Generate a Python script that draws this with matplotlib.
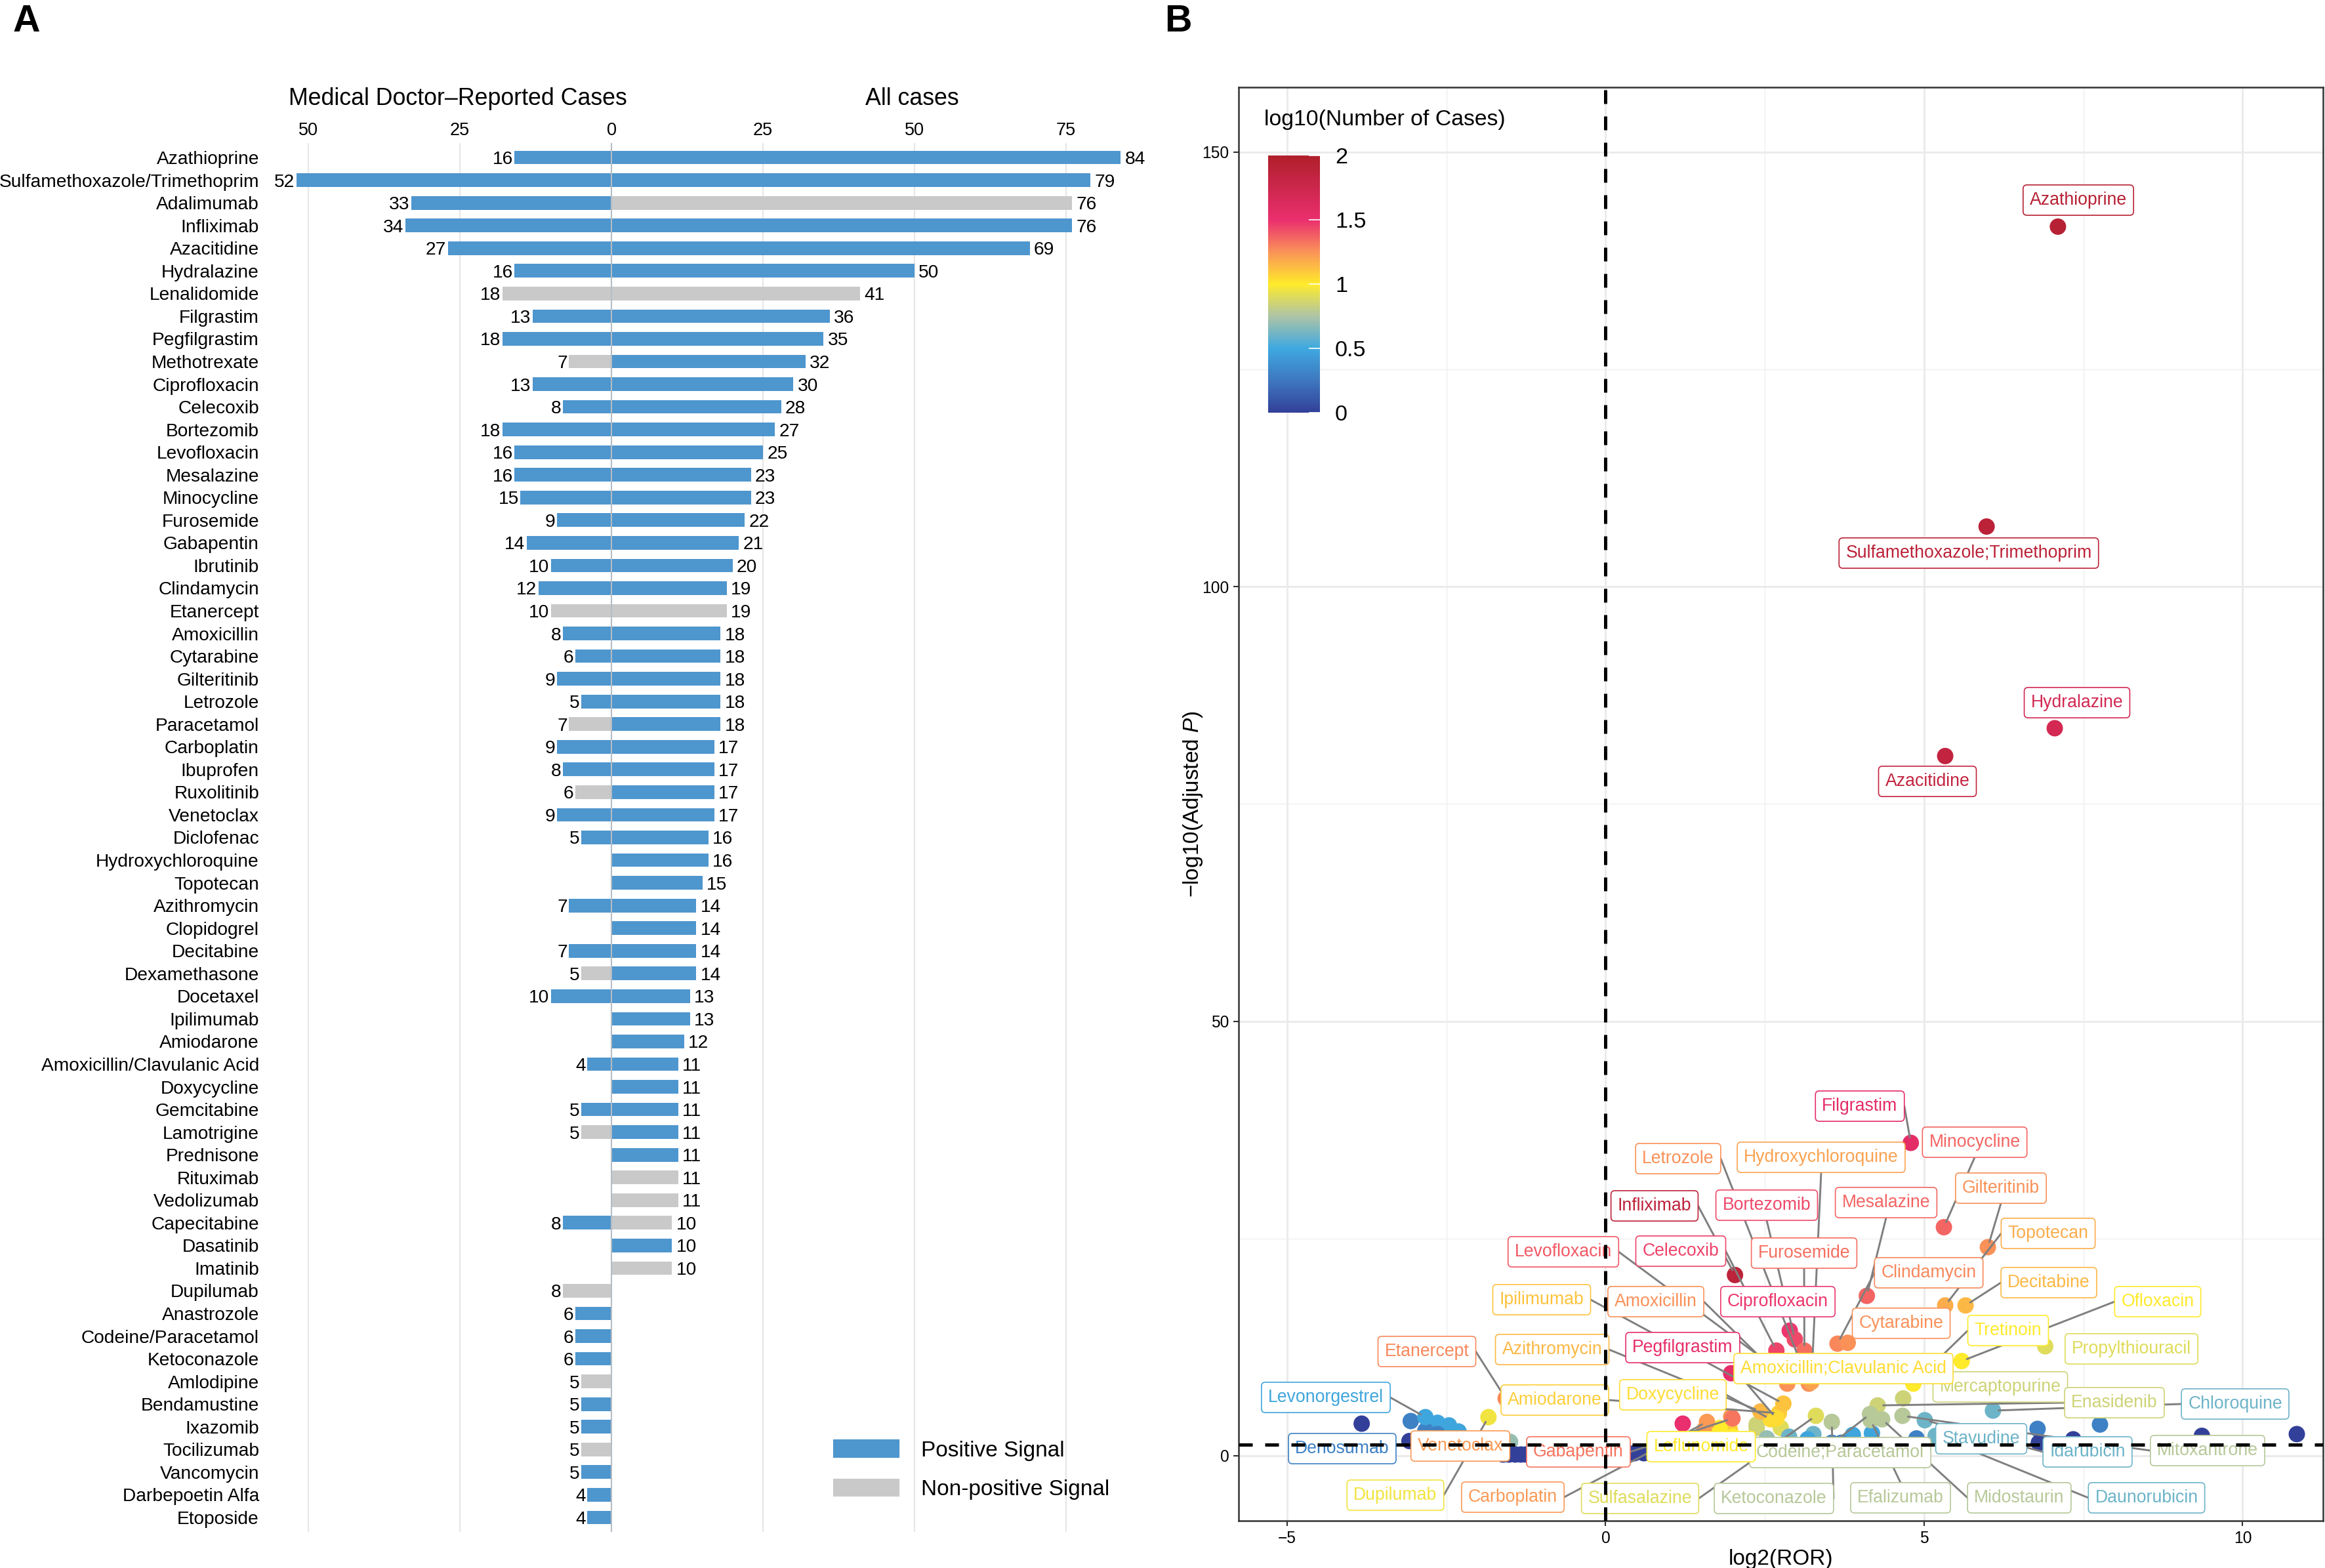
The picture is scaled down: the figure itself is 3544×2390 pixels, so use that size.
import math
import matplotlib
matplotlib.use("Agg")
import matplotlib.pyplot as plt
from matplotlib.colors import LinearSegmentedColormap, Normalize
from matplotlib.cm import ScalarMappable
from matplotlib.patches import Patch
from matplotlib.transforms import Affine2D
from matplotlib.ticker import MultipleLocator

plt.rcParams['font.family'] = ['Liberation Sans', 'DejaVu Sans']
plt.rcParams['mathtext.fontset'] = 'custom'
plt.rcParams['mathtext.rm'] = 'Liberation Sans'
plt.rcParams['mathtext.it'] = 'Liberation Sans:italic'
plt.rcParams['axes.unicode_minus'] = True

# ---------- Panel A data ----------
DRUGS = ["Azathioprine", "Sulfamethoxazole/Trimethoprim", "Adalimumab", "Infliximab", "Azacitidine",
         "Hydralazine", "Lenalidomide", "Filgrastim", "Pegfilgrastim", "Methotrexate", "Ciprofloxacin",
         "Celecoxib", "Bortezomib", "Levofloxacin", "Mesalazine", "Minocycline", "Furosemide", "Gabapentin",
         "Ibrutinib", "Clindamycin", "Etanercept", "Amoxicillin", "Cytarabine", "Gilteritinib", "Letrozole",
         "Paracetamol", "Carboplatin", "Ibuprofen", "Ruxolitinib", "Venetoclax", "Diclofenac",
         "Hydroxychloroquine", "Topotecan", "Azithromycin", "Clopidogrel", "Decitabine", "Dexamethasone",
         "Docetaxel", "Ipilimumab", "Amiodarone", "Amoxicillin/Clavulanic Acid", "Doxycycline", "Gemcitabine",
         "Lamotrigine", "Prednisone", "Rituximab", "Vedolizumab", "Capecitabine", "Dasatinib", "Imatinib",
         "Dupilumab", "Anastrozole", "Codeine/Paracetamol", "Ketoconazole", "Amlodipine", "Bendamustine",
         "Ixazomib", "Tocilizumab", "Vancomycin", "Darbepoetin Alfa", "Etoposide"]
DOCTOR_CASES = [16, 52, 33, 34, 27, 16, 18, 13, 18, 7, 13, 8, 18, 16, 16, 15, 9, 14, 10, 12, 10, 8, 6, 9, 5,
                7, 9, 8, 6, 9, 5, 0, 0, 7, 0, 7, 5, 10, 0, 0, 4, 0, 5, 5, 0, 0, 0, 8, 0, 0,
                8, 6, 6, 6, 5, 5, 5, 5, 5, 4, 4]
ALL_CASES = [84, 79, 76, 76, 69, 50, 41, 36, 35, 32, 30, 28, 27, 25, 23, 23, 22, 21, 20, 19, 19, 18, 18, 18, 18,
             18, 17, 17, 17, 17, 16, 16, 15, 14, 14, 14, 14, 13, 13, 12, 11, 11, 11, 11, 11, 11, 11, 10, 10, 10,
             0, 0, 0, 0, 0, 0, 0, 0, 0, 0, 0]
DOCTOR_NONPOSITIVE = {"Lenalidomide", "Methotrexate", "Etanercept", "Paracetamol", "Ruxolitinib", "Dexamethasone",
                      "Lamotrigine", "Dupilumab", "Amlodipine", "Tocilizumab"}
ALL_NONPOSITIVE = {"Adalimumab", "Lenalidomide", "Etanercept", "Rituximab", "Vedolizumab", "Capecitabine", "Imatinib"}
X_TICKS_A = [-50, -25, 0, 25, 50, 75]

# ---------- Panel B data ----------
POINT_NAMES = ["Azathioprine", "Sulfamethoxazole;Trimethoprim", "Hydralazine", "Azacitidine", "Filgrastim",
               "Minocycline", "Gilteritinib", "Mesalazine", "Topotecan", "Decitabine", "Infliximab", "Ciprofloxacin",
               "Bortezomib", "Celecoxib", "Furosemide", "Clindamycin", "Cytarabine", "Propylthiouracil", "Ofloxacin",
               "Pegfilgrastim", "Amoxicillin", "Levofloxacin", "Letrozole", "Hydroxychloroquine", "Tretinoin",
               "Mercaptopurine", "Enasidenib", "Chloroquine", "Stavudine", "Idarubicin", "Daunorubicin",
               "Mitoxantrone", "Midostaurin", "Efalizumab", "Codeine;Paracetamol", "Ketoconazole", "Sulfasalazine",
               "Leflunomide", "Carboplatin", "Gabapentin", "Venetoclax", "Dupilumab", "Etanercept", "Denosumab",
               "Levonorgestrel", "Amiodarone", "Doxycycline", "Azithromycin", "Ipilimumab",
               "Amoxicillin;Clavulanic Acid"]
POINT_LOG2ROR = [7.10, 5.98, 7.05, 5.33, 4.79, 5.31, 6.00, 4.10, 5.33, 5.65, 2.03, 2.89, 2.97, 2.68, 3.12, 3.64, 3.80,
                 6.90, 5.59, 1.97, 2.85, 2.74, 3.19, 3.23, 4.83, 4.67, 4.27, 6.08, 5.79, 5.01, 5.18, 4.66, 4.34, 4.16,
                 4.15, 3.55, 3.30, 1.79, 1.59, 1.99, -2.20, -1.84, -1.57, -3.06, -2.83, 2.72, 2.59, 2.43, 2.79, 2.68]
POINT_NEGLOGP = [141.4, 106.9, 83.7, 80.5, 36.0, 26.3, 24.0, 18.4, 17.3, 17.3, 20.8, 14.4, 13.4, 12.1, 12.1, 12.9, 13.0,
                 12.6, 10.9, 9.5, 8.3, 9.7, 8.3, 8.5, 8.3, 6.6, 5.8, 5.2, 1.43, 4.1, 2.3, 4.6, 4.2, 4.1,
                 4.8, 3.9, 4.6, 3.2, 3.9, 4.3, 1.0, 4.45, 6.6, 4.0, 4.45, 4.9, 4.2, 5.1, 6.0, 4.3]
POINT_CASES = [84, 79, 50, 69, 36, 23, 18, 23, 15, 14, 76, 30, 27, 28, 22, 19, 18, 8, 10, 35, 18, 25, 18, 16, 10,
               7, 7, 4, 4, 4, 4, 6, 6, 6, 6, 6, 8, 10, 17, 21, 17, 9, 19, 2, 3, 12, 11, 14, 13, 11]

OTHER_LOG2ROR = [1.21, 1.79, 1.95, 1.66, 1.55, 2.0, 2.75, 2.37, 2.53, 2.88, 3.26, 3.17, 3.88, 4.18, 3.55, 3.7, 4.88,
                 6.78, 7.76, 6.80, 7.34, 9.36, 10.85, -3.83, -2.64, -2.46, -2.31, -2.83, -2.64, -3.08, -1.50,
                 -1.61, -1.52, -1.42, -1.33, -1.25, -1.0, -0.6, -0.2, 0.2, 0.45, 0.6, 0.8, 1.0, 1.97, 2.37]
OTHER_NEGLOGP = [3.7, 3.0, 3.0, 2.4, 3.0, 2.2, 3.2, 3.2, 2.0, 2.2, 2.5, 1.9, 2.4, 2.6, 1.5, 1.5, 2.0,
                 3.1, 3.6, 1.5, 1.9, 2.3, 2.5, 3.7, 3.8, 3.5, 2.8, 2.9, 2.5, 1.7, 1.6,
                 0.15, 0.15, 0.15, 0.15, 0.15, 0.15, 0.15, 0.2, 0.2, 0.3, 0.3, 0.3, 0.3, 4.5, 3.6]
OTHER_CASES = [32, 14, 12, 11, 18, 10, 8, 7, 5, 4, 4, 3, 3, 3, 2, 2, 2,
               2, 2, 1, 1, 1, 1, 1, 3, 3, 3, 2, 2, 1, 5,
               1, 1, 1, 1, 1, 1, 1, 1, 1, 1, 1, 1, 1, 17, 7]

SIGNIFICANCE = 1.3
COLORBAR_TICKS = [0, 0.5, 1, 1.5, 2]
COLORBAR_LABELS = ["0", "0.5", "1", "1.5", "2"]

# ---------- Layout (pixels in the 3544x2390 canvas) ----------
W, H = 3544, 2390
DPI = 300
fig = plt.figure(figsize=(W / DPI, H / DPI), dpi=DPI, facecolor="white")
px = Affine2D().scale(1 / W, -1 / H).translate(0, 1) + fig.transFigure


def add_axes_px(left, top, right, bottom):
    return fig.add_axes([left / W, 1 - bottom / H, (right - left) / W, (bottom - top) / H])


BLUE = "#4E96CE"
GREY = "#C9C9C9"
FS_A = 6.75

# ---------- Panel A ----------
axA = add_axes_px(400, 218, 1760, 2335)
zero_px, unit_px = 932, 9.24
axA.set_xlim((400 - zero_px) / unit_px, (1760 - zero_px) / unit_px)
axA.set_ylim(60.64, -0.64)
for spine in axA.spines.values():
    spine.set_visible(False)
for t in X_TICKS_A:
    if t != 0:
        axA.axvline(t, color="#E6E6E6", lw=0.5, zorder=0)
rows = list(range(len(DRUGS)))
axA.barh(rows, [-v for v in DOCTOR_CASES], height=0.6, zorder=2,
         color=[GREY if d in DOCTOR_NONPOSITIVE else BLUE for d in DRUGS])
axA.barh(rows, ALL_CASES, height=0.6, zorder=2,
         color=[GREY if d in ALL_NONPOSITIVE else BLUE for d in DRUGS])
axA.axvline(0, color="#B5BCC4", lw=0.5, zorder=3)
for i, (l, r) in enumerate(zip(DOCTOR_CASES, ALL_CASES)):
    if l:
        axA.annotate(str(l), (-l, i), xytext=(-0.6, 0), textcoords="offset points", ha="right", va="center_baseline",
                     fontsize=FS_A, color="black")
    if r:
        axA.annotate(str(r), (r, i), xytext=(1.5, 0), textcoords="offset points", ha="left", va="center_baseline",
                     fontsize=FS_A, color="black")
axA.set_yticks(rows)
axA.set_yticklabels(DRUGS, fontsize=FS_A)
axA.set_xticks(X_TICKS_A)
axA.set_xticklabels([str(abs(t)) for t in X_TICKS_A], fontsize=6.5)
axA.tick_params(axis="both", length=0)
axA.tick_params(axis="y", pad=1.2)
axA.tick_params(axis="x", top=True, bottom=False, labeltop=True, labelbottom=False, pad=1.5)
fig.text(698 / W, 1 - 150 / H, "Medical Doctor\u2013Reported Cases", ha="center", va="center", fontsize=8.6)
fig.text(1390 / W, 1 - 150 / H, "All cases", ha="center", va="center", fontsize=8.6)
axA.legend(handles=[Patch(color=BLUE, label="Positive Signal"), Patch(color=GREY, label="Non-positive Signal")],
           loc="center left", bbox_to_anchor=(1272, 2241), bbox_transform=px, frameon=False, fontsize=8,
           handlelength=2.9, handleheight=0.72, handletextpad=1.05, labelspacing=0.85, borderpad=0, borderaxespad=0)

# ---------- Panel B ----------
axB = add_axes_px(1888, 133, 3541, 2318)
xz, xu = 2447.5, 97.1
yz, yu = 2219, 13.25
axB.set_xlim((1888 - xz) / xu, (3541 - xz) / xu)
axB.set_ylim((yz - 2318) / yu, (yz - 133) / yu)
axB.set_axisbelow(True)
axB.xaxis.set_major_locator(MultipleLocator(5))
axB.xaxis.set_minor_locator(MultipleLocator(2.5))
axB.yaxis.set_major_locator(MultipleLocator(50))
axB.yaxis.set_minor_locator(MultipleLocator(25))
axB.grid(which="major", color="#EBEBEB", lw=0.7)
axB.grid(which="minor", color="#EFEFEF", lw=0.35)
axB.tick_params(which="minor", length=0)
axB.tick_params(which="major", length=2, width=0.5, color="#333333", labelsize=5.9, pad=1.5)
for spine in axB.spines.values():
    spine.set_color("#333333")
    spine.set_linewidth(0.6)

STOPS = [(0.0, "#334099"), (0.25, "#3E78BF"), (0.5, "#3FA9E0"), (0.75, "#AEC4A6"), (1.0, "#FFEB2B"),
         (1.25, "#FA9358"), (1.5, "#EB2F6F"), (2.0, "#AF1F2A")]
cmap = LinearSegmentedColormap.from_list("cases", [(v / 2, c) for v, c in STOPS])
norm = Normalize(0, 2)


def case_color(n):
    return cmap(norm(math.log10(n)))


axB.scatter(OTHER_LOG2ROR + POINT_LOG2ROR, OTHER_NEGLOGP + POINT_NEGLOGP, s=36, linewidths=0, zorder=2,
            c=[case_color(n) for n in OTHER_CASES + POINT_CASES])
axB.axvline(0, color="black", lw=1.2, linestyle=(0, (4.2, 3.8)), dash_capstyle="butt", zorder=6)
axB.axhline(SIGNIFICANCE, color="black", lw=1.2, linestyle=(0, (4.2, 3.8)), dash_capstyle="butt", zorder=6)
axB.set_xlabel("log2(ROR)", fontsize=8, labelpad=1.0)
axB.set_ylabel("\u2212log10(Adjusted $\\mathit{P}$)", fontsize=8, labelpad=-1)

LABEL_CENTRES = {
    "Azathioprine": (3168, 305), "Sulfamethoxazole;Trimethoprim": (3001, 843), "Hydralazine": (3166, 1071),
    "Azacitidine": (2938, 1191), "Filgrastim": (2835, 1686), "Minocycline": (3010, 1741),
    "Hydroxychloroquine": (2776, 1764), "Letrozole": (2558, 1766), "Infliximab": (2522, 1838),
    "Bortezomib": (2693, 1837), "Mesalazine": (2875, 1833), "Gilteritinib": (3050, 1811), "Topotecan": (3122, 1880),
    "Levofloxacin": (2383, 1908), "Celecoxib": (2562, 1907), "Furosemide": (2750, 1910), "Clindamycin": (2940, 1940),
    "Decitabine": (3123, 1955), "Ofloxacin": (3289, 1984), "Ipilimumab": (2350, 1981), "Amoxicillin": (2524, 1984),
    "Ciprofloxacin": (2710, 1984), "Cytarabine": (2898, 2017), "Tretinoin": (3061, 2028),
    "Propylthiouracil": (3249, 2056), "Etanercept": (2175, 2060), "Azithromycin": (2366, 2057),
    "Pegfilgrastim": (2565, 2054), "Amoxicillin;Clavulanic Acid": (2810, 2086), "Mercaptopurine": (3049, 2114),
    "Enasidenib": (3223, 2138), "Chloroquine": (3407, 2140), "Levonorgestrel": (2021, 2130),
    "Amiodarone": (2370, 2134), "Doxycycline": (2550, 2126), "Denosumab": (2046, 2208), "Venetoclax": (2226, 2204),
    "Gabapentin": (2406, 2213), "Leflunomide": (2593, 2205), "Codeine;Paracetamol": (2805, 2214),
    "Stavudine": (3020, 2193), "Idarubicin": (3182, 2213), "Mitoxantrone": (3365, 2211), "Dupilumab": (2127, 2279),
    "Carboplatin": (2306, 2282), "Sulfasalazine": (2500, 2284), "Ketoconazole": (2704, 2284),
    "Efalizumab": (2897, 2283), "Midostaurin": (3078, 2283), "Daunorubicin": (3272, 2283),
}
# later entries paint on top of earlier ones
LABEL_ORDER = ["Mercaptopurine", "Codeine;Paracetamol"] + [n for n in LABEL_CENTRES
                                                           if n not in ("Mercaptopurine", "Codeine;Paracetamol")]
texts = {}
for name in LABEL_ORDER:
    i = POINT_NAMES.index(name)
    c = case_color(POINT_CASES[i])
    cx, cy = LABEL_CENTRES[name]
    texts[name] = axB.text(cx, cy, name, transform=px, ha="center", va="center", fontsize=6.4, color=c, zorder=4,
                           clip_on=False,
                           bbox=dict(boxstyle="round,pad=0.38,rounding_size=0.22", fc="white", ec=c, lw=0.4))

# Colour bar with its own axes and title
cax = add_axes_px(1933, 237, 2012, 629)
cb = fig.colorbar(ScalarMappable(norm=norm, cmap=cmap), cax=cax)
cb.outline.set_visible(False)
cb.set_ticks(COLORBAR_TICKS)
cb.set_ticklabels(COLORBAR_LABELS)
cax.tick_params(axis="y", direction="in", length=4, width=0.4, color="white", labelsize=8.2, pad=5.5)
fig.text(1927 / W, 1 - 183 / H, "log10(Number of Cases)", ha="left", va="center", fontsize=8.1)

fig.text(20 / W, 1 - 48 / H, "A", fontsize=13.8, fontweight="bold", ha="left", va="baseline")
fig.text(1775 / W, 1 - 48 / H, "B", fontsize=13.8, fontweight="bold", ha="left", va="baseline")

# Connector segments from the nearest box side to each point (drawn under the boxes)
fig.canvas.draw()
for name, t in texts.items():
    i = POINT_NAMES.index(name)
    p = axB.transData.transform((POINT_LOG2ROR[i], POINT_NEGLOGP[i]))
    bb = t.get_bbox_patch().get_window_extent()
    sides = [(bb.x0, (bb.y0 + bb.y1) / 2), (bb.x1, (bb.y0 + bb.y1) / 2),
             ((bb.x0 + bb.x1) / 2, bb.y0), ((bb.x0 + bb.x1) / 2, bb.y1)]
    s = min(sides, key=lambda q: math.hypot(q[0] - p[0], q[1] - p[1]))
    if math.hypot(s[0] - p[0], s[1] - p[1]) < 50:
        continue
    axB.annotate("", xy=(POINT_LOG2ROR[i], POINT_NEGLOGP[i]), xycoords="data", xytext=s,
                 textcoords="figure pixels", zorder=3, annotation_clip=False,
                 arrowprops=dict(arrowstyle="-", color="#7F7F7F", lw=0.7, shrinkA=0, shrinkB=2))

fig.savefig("out.png", dpi=DPI, facecolor="white")
